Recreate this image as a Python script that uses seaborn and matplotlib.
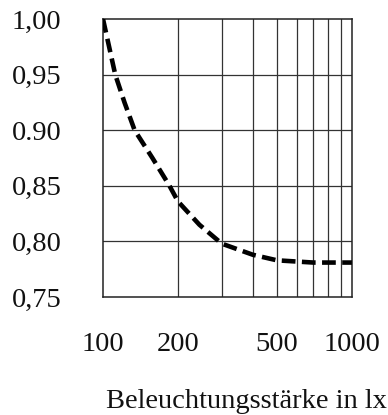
import numpy as np
import pandas as pd
import matplotlib
matplotlib.use("Agg")
import matplotlib.pyplot as plt
import seaborn as sns

# Werte
beleuchtung = [100, 112, 122, 134, 158, 185, 200, 244, 300, 400, 500, 700, 1000]
faktor = [1.00, 0.95, 0.925, 0.90, 0.875, 0.85, 0.836, 0.815, 0.798, 0.788, 0.783, 0.781, 0.781]

y_ticks = [0.75, 0.80, 0.85, 0.90, 0.95, 1.00]
y_labels = ["0,75", "0,80", "0,85", "0.90", "0,95", "1,00"]
x_ticks = [100, 200, 500, 1000]
x_labels = ["100", "200", "500", "1000"]
x_grid = [200, 300, 400, 500, 600, 700, 800, 900]
y_grid = [0.80, 0.85, 0.90, 0.95]

df = pd.DataFrame({"E": beleuchtung, "k": faktor})

sns.set_style("white")
plt.rcParams['font.family'] = ['Liberation Serif', 'DejaVu Serif']

fig = plt.figure(figsize=(3.88, 4.15), dpi=100)
ax = fig.add_axes([0.2655, 0.2843, 0.6415, 0.6697])

# Gitterlinien
for xg in x_grid:
    ax.axvline(xg, color='#333333', lw=0.9, zorder=1)
for yg in y_grid:
    ax.axhline(yg, color='#333333', lw=0.9, zorder=1)

sns.lineplot(data=df, x="E", y="k", ax=ax, color='black', lw=3.3,
             linestyle=(0, (3, 1.4)), zorder=3)

ax.set_xscale('log')
ax.set_xlim(100, 1000)
ax.set_ylim(0.75, 1.00)
ax.set_xticks(x_ticks)
ax.set_xticklabels(x_labels)
ax.set_xticks([], minor=True)
ax.set_yticks(y_ticks)
ax.set_yticklabels(y_labels)
ax.tick_params(axis='both', length=0, labelsize=20.5, colors='#111111')
ax.tick_params(axis='x', pad=25)
ax.tick_params(axis='y', pad=30)

for s in ax.spines.values():
    s.set_color('#222222')
    s.set_linewidth(1.1)

ax.set_ylabel("")
ax.set_xlabel("Beleuchtungsstärke in lx", fontsize=20.5, color='#111111')
ax.xaxis.set_label_coords(0.575, -0.33)

fig.savefig("out.png", dpi=100)
